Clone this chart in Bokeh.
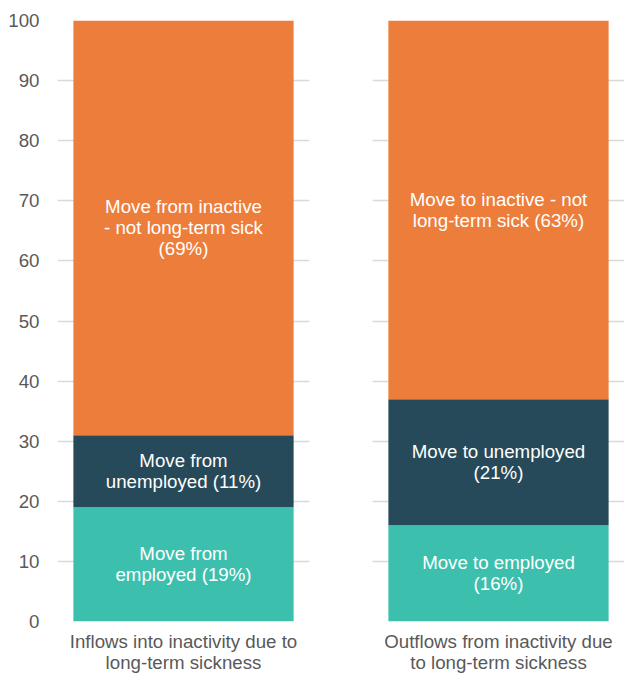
from bokeh.plotting import figure
from bokeh.layouts import row
from bokeh.models import ColumnDataSource, FactorRange, Range1d, FixedTicker
from bokeh.embed import file_html
from bokeh.resources import INLINE
from bokeh.core.properties import value

categories = ["Inflows into inactivity due to\nlong-term sickness",
              "Outflows from inactivity due\nto long-term sickness"]
employed = [19, 16]
unemployed = [12, 21]
inactive = [69, 63]
employed_labels = ["Move from\nemployed (19%)", "Move to employed\n(16%)"]
unemployed_labels = ["Move from\nunemployed (11%)", "Move to unemployed\n(21%)"]
inactive_labels = ["Move from inactive\n- not long-term sick\n(69%)",
                   "Move to inactive - not\nlong-term sick (63%)"]
y_ticks = [0, 10, 20, 30, 40, 50, 60, 70, 80, 90, 100]

colors = {"employed": "#3DBFAE", "unemployed": "#264A59", "inactive": "#ED7D3B"}
FONT = "Liberation Sans"
FS = "18.7px"
GREY = "#595959"

figs = []
for i, cat in enumerate(categories):
    first = i == 0
    p = figure(x_range=FactorRange(factors=[cat]), y_range=Range1d(0, 100),
               width=312, height=675, output_backend="svg", toolbar_location=None,
               min_border_top=20, min_border_bottom=0,
               min_border_left=57 if first else 60,
               min_border_right=3 if first else 0)
    e, u, n = employed[i], unemployed[i], inactive[i]
    src = ColumnDataSource(dict(
        x=[cat, cat, cat],
        bottom=[0, e, e + u],
        top=[e, e + u, e + u + n],
        mid=[e / 2, e + u / 2, e + u + n / 2],
        color=[colors["employed"], colors["unemployed"], colors["inactive"]],
        label=[employed_labels[i], unemployed_labels[i], inactive_labels[i]],
    ))
    p.vbar(x="x", bottom="bottom", top="top", width=0.874, color="color",
           line_color=None, source=src)
    p.text(x="x", y="mid", text="label", source=src, text_color="white",
           text_font=value(FONT), text_font_size=FS, text_align="center",
           text_baseline="middle", text_line_height=1.0)

    p.xgrid.visible = False
    p.ygrid.grid_line_color = "#d9d9d9"
    p.ygrid.grid_line_width = 1.5
    p.yaxis.ticker = FixedTicker(ticks=y_ticks)
    p.yaxis.axis_line_color = None
    p.yaxis.major_tick_line_color = None
    p.yaxis.minor_tick_line_color = None
    p.yaxis.major_label_text_font = FONT
    p.yaxis.major_label_text_font_size = FS
    p.yaxis.major_label_text_color = GREY
    p.yaxis.major_label_standoff = 12
    if not first:
        p.yaxis.visible = False

    p.xaxis.axis_line_color = None
    p.xaxis.major_tick_line_color = None
    p.xaxis.minor_tick_line_color = None
    p.xaxis.major_label_text_font = FONT
    p.xaxis.major_label_text_font_size = FS
    p.xaxis.major_label_text_color = GREY
    p.xaxis.major_label_text_line_height = 1.0
    p.xaxis.major_label_standoff = 3
    p.outline_line_color = None
    p.background_fill_color = "white"
    p.border_fill_color = "white"
    figs.append(p)

layout = row(*figs, spacing=0)
open("out.html", "w").write(file_html(layout, INLINE))
